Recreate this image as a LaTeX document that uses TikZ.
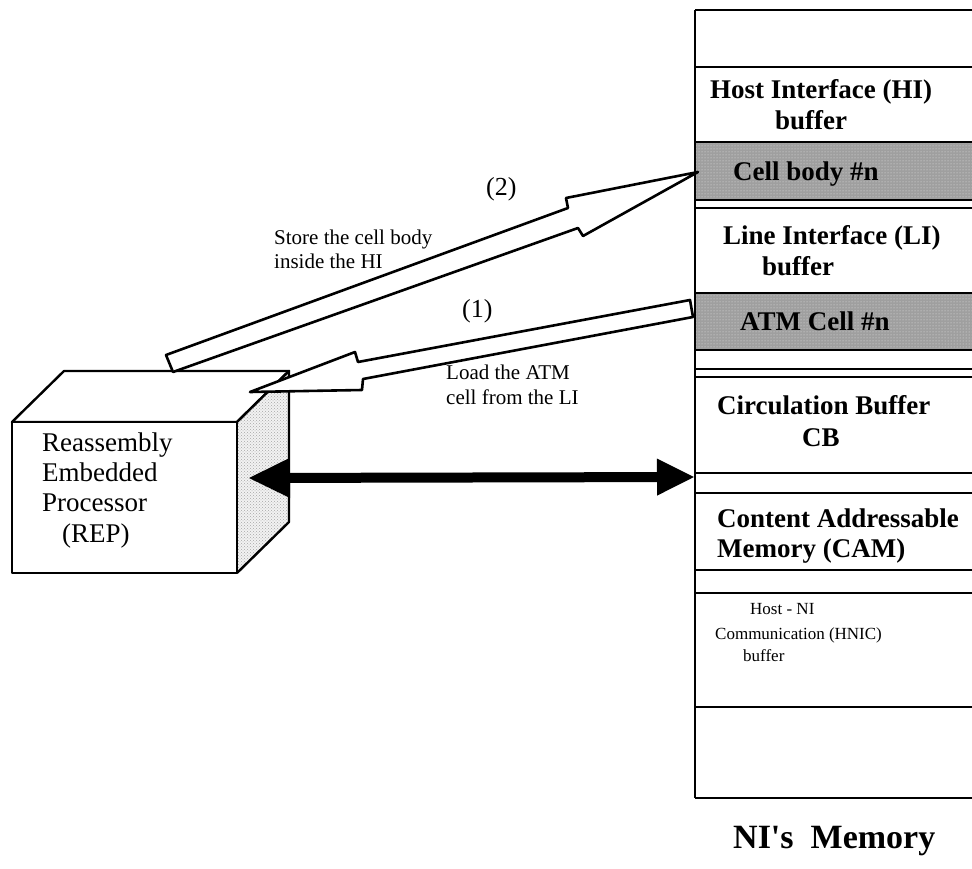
\documentclass[tikz,border=0pt]{standalone}
\usepackage{fontspec}
\setmainfont{Liberation Serif}
\usetikzlibrary{arrows.meta,patterns}
\begin{document}
\begin{tikzpicture}[x=1pt,y=-1pt,
  memline/.style={line width=2pt},
  bandline/.style={line width=2.8pt},
  boxline/.style={line width=2.4pt, line join=round},
  blockarrow/.style={draw, fill=white, line width=2.6pt, line join=round},
  busarrow/.style={line width=10pt, {Triangle[length=42pt,width=37pt]}-{Triangle[length=38pt,width=34pt]}},
  memlabel/.style={anchor=base west, inner sep=0pt, font=\fontsize{27}{30}\selectfont\bfseries},
  smalllabel/.style={anchor=base west, inner sep=0pt, font=\fontsize{17}{19}\selectfont},
  replabel/.style={anchor=base west, inner sep=0pt, font=\fontsize{27}{30}\selectfont},
  arrowlabel/.style={anchor=base west, inner sep=0pt, font=\fontsize{21}{24}\selectfont},
  steplabel/.style={anchor=base west, inner sep=0pt, font=\fontsize{26}{30}\selectfont},
  titlelabel/.style={anchor=base west, inner sep=0pt, font=\fontsize{34}{38}\selectfont\bfseries}
]
\useasboundingbox (0,0) rectangle (972,869);

% ---------------- NI's memory column ----------------
\fill[gray!75] (695,142) rectangle (972,200);
\fill[pattern=dots, pattern color=gray!20] (695,142) rectangle (972,200);
\fill[gray!75] (695,293) rectangle (972,350);
\fill[pattern=dots, pattern color=gray!20] (695,293) rectangle (972,350);

\foreach \yy in {10,67,200,208,350,369,377,473,493,570,593,707,798}
  \draw[memline] (695,\yy) -- (972,\yy);
\draw[bandline] (695,142) -- (972,142);
\draw[bandline] (695,293) -- (972,293);
\draw[memline] (695,10) -- (695,798);

\node[memlabel] (hi1) at (710,99) {Host Interface (HI)};
\node[memlabel] (hi2) at (775,130) {buffer};
\node[memlabel] (cellbody) at (733,181) {Cell body \#n};
\node[memlabel] (li1) at (723,245) {Line Interface (LI)};
\node[memlabel] (li2) at (762,275) {buffer};
\node[memlabel] (atmcell) at (740,330) {ATM Cell \#n};
\node[memlabel] (cb1) at (717,414) {Circulation Buffer};
\node[memlabel] (cb2) at (802,446) {CB};
\node[memlabel] (cam1) at (717,527) {Content Addressable};
\node[memlabel] (cam2) at (717,557) {Memory (CAM)};
\node[smalllabel] (hn1) at (750,614) {Host - NI};
\node[smalllabel] (hn2) at (715,639) {Communication (HNIC)};
\node[smalllabel] (hn3) at (743,661) {buffer};
\node[titlelabel] (title) at (733,848) {NI\textquotesingle s\hspace{0.5em}Memory};

% ---------------- REP box ----------------
\draw[boxline, fill=white] (12,422) -- (64,371) -- (289,371) -- (237,422) -- cycle;
\fill[gray!10] (237,422) -- (289,371) -- (289,522) -- (237,573) -- cycle;
\fill[pattern=crosshatch dots, pattern color=gray!70] (237,422) -- (289,371) -- (289,522) -- (237,573) -- cycle;
\draw[boxline] (237,422) -- (289,371) -- (289,522) -- (237,573);
\draw[boxline, fill=white] (12,422) rectangle (237,573);

\node[replabel] (rep1) at (42,451) {Reassembly};
\node[replabel] (rep2) at (42,481) {Embedded};
\node[replabel] (rep3) at (42,511) {Processor};
\node[replabel] (rep4) at (62,542) {(REP)};

% ---------------- block arrow (2): REP -> HI cell body ----------------
\coordinate (a2tailA) at (166,355);
\coordinate (a2tailB) at (173,372);
\coordinate (a2upper) at (568,208);
\coordinate (a2barbU) at (566,198);
\coordinate (a2tip) at (698,172);
\coordinate (a2barbL) at (583,236);
\coordinate (a2lower) at (578,228);
\draw[blockarrow] (a2tailA) -- (a2upper) -- (a2barbU) -- (a2tip) -- (a2barbL) -- (a2lower) -- (a2tailB) -- cycle;

% ---------------- block arrow (1): LI ATM cell -> REP ----------------
\coordinate (a1tailA) at (690,300);
\coordinate (a1tailB) at (693,317);
\coordinate (a1upper) at (358,362);
\coordinate (a1barbU) at (355,352);
\coordinate (a1tip) at (250,392);
\coordinate (a1barbL) at (362,390);
\coordinate (a1lower) at (363,379);
\draw[blockarrow] (a1tailA) -- (a1upper) -- (a1barbU) -- (a1tip) -- (a1barbL) -- (a1lower) -- (a1tailB) -- cycle;

% ---------------- arrow labels ----------------
\node[steplabel] (step2) at (486,196) {(2)};
\node[steplabel] (step1) at (462,317) {(1)};
\node[arrowlabel] (store1) at (274,245) {Store the cell body};
\node[arrowlabel] (store2) at (274,269) {inside the HI};
\node[arrowlabel] (load1) at (446,379) {Load the ATM};
\node[arrowlabel] (load2) at (446,404) {cell from the LI};

% ---------------- bus between REP and memory ----------------
\coordinate (repport) at (248,478);
\coordinate (memport) at (695,477);
\draw[busarrow] (repport) -- (memport);

\end{tikzpicture}
\end{document}
